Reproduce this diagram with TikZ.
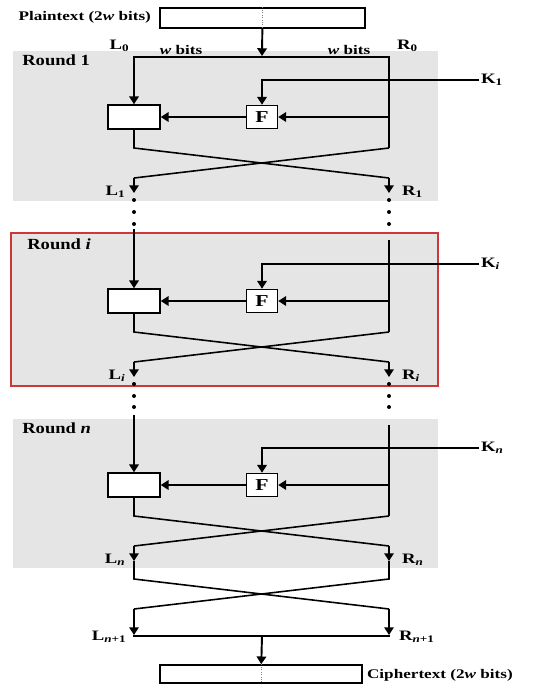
\documentclass[tikz,border=0pt]{standalone}
\usepackage{fontspec}
\setmainfont{Liberation Serif}
\usepackage{graphicx}
\usetikzlibrary{arrows.meta}
\definecolor{roundgray}{RGB}{229,229,229}
\definecolor{roundred}{RGB}{205,55,55}
\newcommand\sx[1]{\scalebox{1.3}[1]{#1}}
\tikzset{
  ln/.style={line width=0.9pt},
  arr/.style={ln,-{Triangle[length=4.4pt,width=5.4pt]}},
  lbl/.style={font=\bfseries\fontsize{7.5}{8}\selectfont,inner sep=1pt},
  slbl/.style={font=\bfseries\fontsize{8.2}{9}\selectfont,inner sep=1pt},
  rlbl/.style={font=\bfseries\fontsize{8.8}{10}\selectfont,inner sep=0pt,anchor=west},
  xorbox/.style={draw,ln,fill=white,minimum width=1.04cm,minimum height=0.48cm,inner sep=0pt},
  fbox/.style={draw,ln,fill=white,minimum width=0.62cm,minimum height=0.46cm,inner sep=0pt,font=\bfseries\fontsize{9.5}{10}\selectfont},
  wordbox/.style={draw,ln,fill=white,minimum width=4.1cm,minimum height=0.4cm,inner sep=0pt},
  dotmark/.style={fill=black}
}
\begin{document}
\begin{tikzpicture}[x=0.02cm,y=-0.02cm]
\useasboundingbox (0,0) rectangle (538,694);
% round backgrounds
\fill[roundgray] (13,51) rectangle (438,201);
\filldraw[fill=roundgray,draw=roundred,line width=0.6pt] (11,233) rectangle (438,386);
\fill[roundgray] (13,419) rectangle (438,568);

% plaintext
\node[wordbox] (pt) at (262.5,18) {};
\draw[gray,densely dotted] (pt.north) -- (pt.south);
\node[lbl,anchor=east] (ptl) at (153,17) {\sx{Plaintext (2\textit{w} bits)}};
\coordinate (top) at (262,56);
\draw[arr,line width=1.1pt] (pt) -- (top);
\node[slbl,anchor=east] (L0) at (132,46) {\sx{L\textsubscript{0}}};
\node[slbl,anchor=west] (R0) at (395,46) {\sx{R\textsubscript{0}}};
\node[lbl] (wl) at (181,50) {\sx{\textit{w} bits}};
\node[lbl] (wr) at (349,50) {\sx{\textit{w} bits}};
\draw[ln,line cap=rect] (134,57) -- (389,57);

% rounds
\foreach \n/\o/\s/\rt/\rx/\ls/\rs in {a/0/1/1/22/57/57, b/184/\textit{i}/\textit{i}/27/229/240, c/368/\textit{n}/\textit{n}/22/415/425}{
  \node[rlbl] (rl\n) at (\rx,60+\o) {\scalebox{1.2}[1]{Round \rt}};
  \node[xorbox] (x\n) at (134,117+\o) {};
  \node[fbox] (f\n) at (262,117+\o) {\sx{F}};
  \node[slbl,anchor=west] (k\n) at (479,80+\o) {\sx{K\textsubscript{\s}}};
  \coordinate (lt\n) at (134,\ls);
  \coordinate (rt\n) at (389,\rs);
  \coordinate (rm\n) at (389,117+\o);
  \coordinate (lb\n) at (134,148+\o);
  \coordinate (rb\n) at (389,148+\o);
  \coordinate (lc\n) at (134,178+\o);
  \coordinate (rc\n) at (389,178+\o);
  \coordinate (lo\n) at (134,193+\o);
  \coordinate (ro\n) at (389,193+\o);
  \draw[arr] (k\n.west) -| (f\n);
  \draw[arr] (lt\n) -- (x\n);
  \draw[ln] (rt\n) -- (rb\n);
  \draw[arr] (rm\n) -- (f\n);
  \draw[arr] (f\n) -- (x\n);
  \draw[ln] (x\n) -- (lb\n) -- (rc\n);
  \draw[arr] (rc\n) -- (ro\n);
  \draw[ln] (rb\n) -- (lc\n);
  \draw[arr] (lc\n) -- (lo\n);
  \node[slbl,anchor=east] (L\n) at (128,192+\o) {\sx{L\textsubscript{\s}}};
  \node[slbl,anchor=west] (R\n) at (400,192+\o) {\sx{R\textsubscript{\s}}};
}

% dots between rounds
\foreach \yy in {200,212,224,384,396,407}{
  \fill[dotmark] (134,\yy) circle (2);
  \fill[dotmark] (389,\yy) circle (2);
}

% final swap
\coordinate (lf1) at (134,579);
\coordinate (rf1) at (389,579);
\coordinate (lf2) at (134,609);
\coordinate (rf2) at (389,609);
\coordinate (lf3) at (134,635);
\coordinate (rf3) at (389,635);
\draw[ln] (loc) -- (lf1) -- (rf2);
\draw[arr] (rf2) -- (rf3);
\draw[ln] (roc) -- (rf1) -- (lf2);
\draw[arr] (lf2) -- (lf3);
\coordinate (lh) at (134,636);
\coordinate (rh) at (389,636);
\coordinate (mh) at (262,636);
\draw[ln,line cap=rect] (lh) -- (rh);
\node[slbl,anchor=east] (Ln1) at (129,637) {\sx{L\textsubscript{\textit{n}+1}}};
\node[slbl,anchor=west] (Rn1) at (397,637) {\sx{R\textsubscript{\textit{n}+1}}};

% ciphertext
\node[wordbox,minimum width=4.04cm,minimum height=0.36cm] (ct) at (261,674) {};
\draw[gray,densely dotted] (ct.north) -- (ct.south);
\draw[arr,line width=1.1pt] (mh) -- (ct);
\node[lbl,anchor=west] (ctl) at (365,675) {\sx{Ciphertext (2\textit{w} bits)}};
\end{tikzpicture}
\end{document}
